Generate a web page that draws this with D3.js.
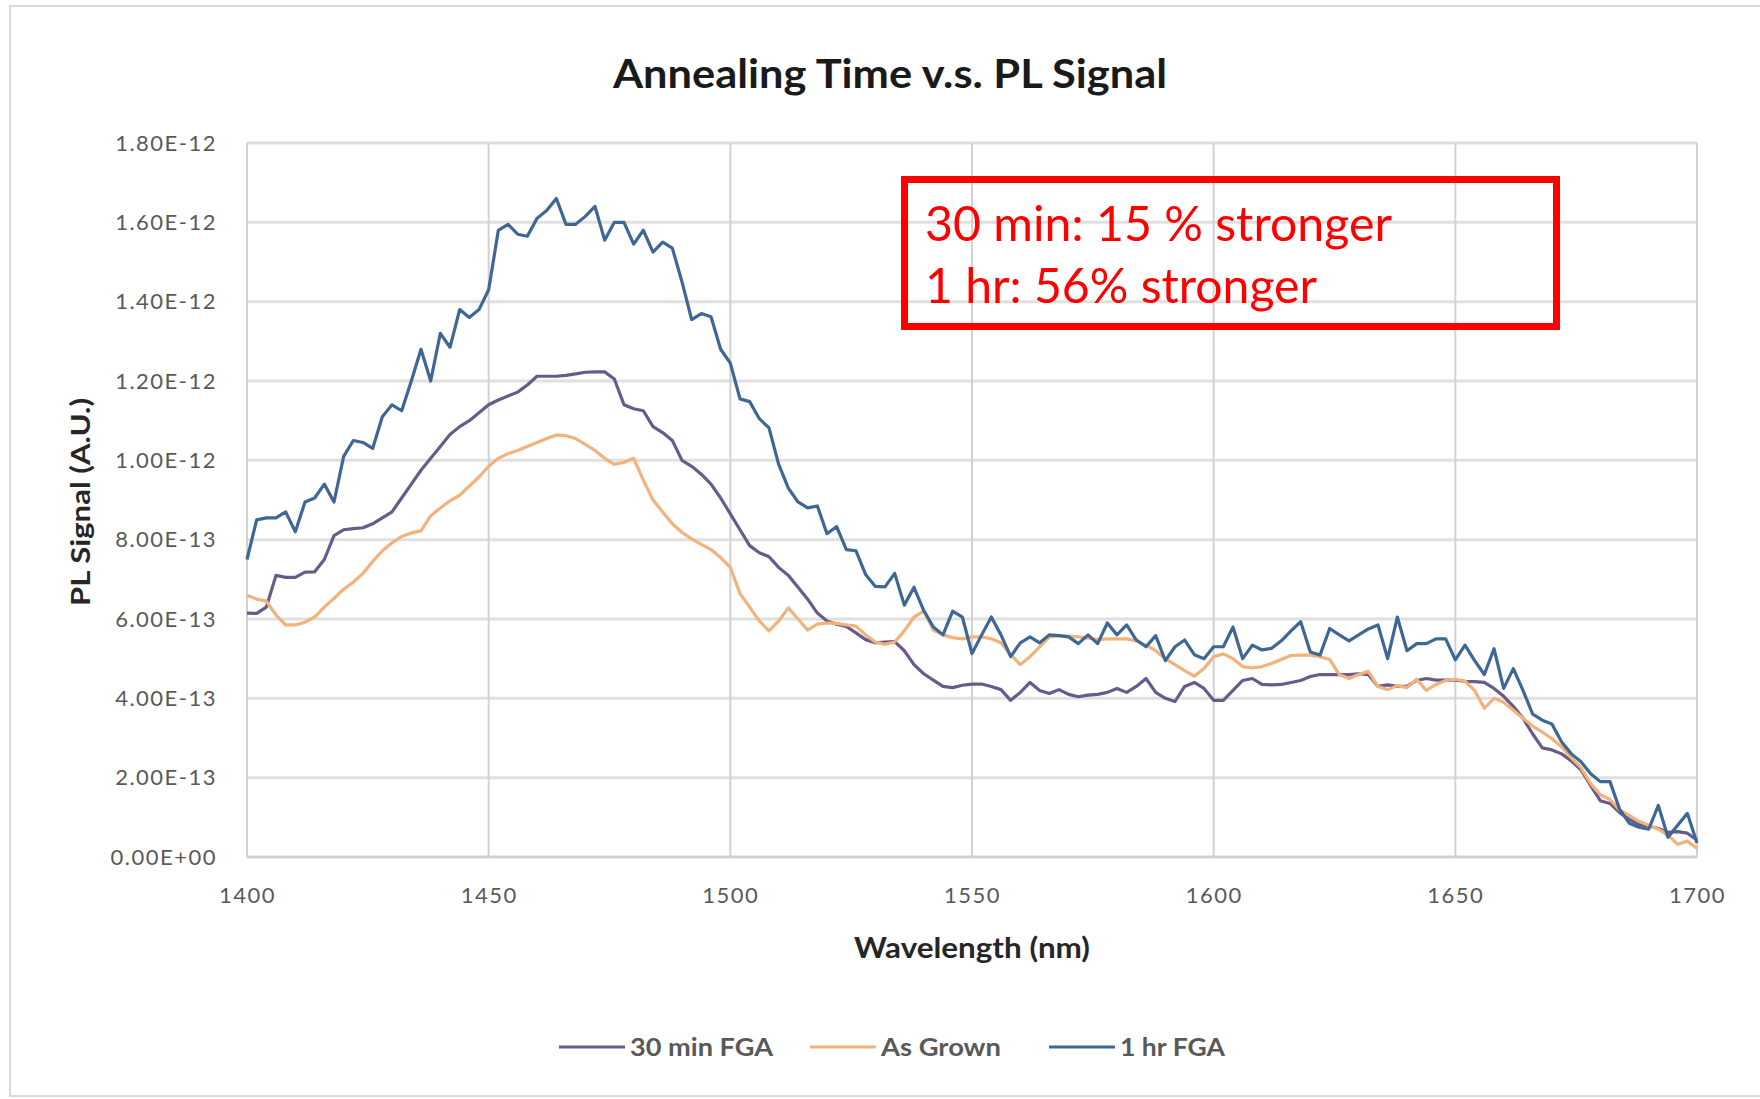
<!DOCTYPE html>
<html>
<head>
<meta charset="utf-8">
<title>Annealing Time v.s. PL Signal</title>
<script src="https://cdnjs.cloudflare.com/ajax/libs/d3/7.8.5/d3.min.js"></script>
<style>
    body { margin: 0; background: #ffffff; }
    #chart-area { width: 1760px; height: 1099px; }
    text { font-family: Lato, "Open Sans", sans-serif; }
</style>
</head>
<body>
<div id="chart-area"></div>
<script>
// wavelength samples (nm), one every 2 nm
let wavelengths = d3.range(1400, 1701, 2);

// PL signal, in units of 1e-13 (A.U.)
let unit = 1e-13;

let sig30min = [
    6.15, 6.14, 6.3, 7.1, 7.05,   7.05, 7.18, 7.19, 7.5, 8.1,
    8.25, 8.28, 8.3, 8.4, 8.55,   8.7, 9.05, 9.4, 9.75, 10.05,
    10.35, 10.65, 10.85, 11.0, 11.2,   11.4, 11.52, 11.62, 11.72, 11.9,
    12.12, 12.12, 12.12, 12.14, 12.18,   12.22, 12.23, 12.23, 12.05, 11.4,
    11.3, 11.25, 10.85, 10.7, 10.5,   10.0, 9.85, 9.65, 9.4, 9.05,
    8.65, 8.25, 7.85, 7.67, 7.57,   7.3, 7.1, 6.8, 6.5, 6.15,
    5.95, 5.87, 5.81, 5.65, 5.48,   5.4, 5.42, 5.43, 5.2, 4.85,
    4.62, 4.46, 4.3, 4.27, 4.33,   4.36, 4.36, 4.3, 4.22, 3.95,
    4.15, 4.4, 4.2, 4.12, 4.22,   4.1, 4.04, 4.08, 4.1, 4.15,
    4.25, 4.15, 4.3, 4.5, 4.15,   4.0, 3.92, 4.3, 4.4, 4.25,
    3.95, 3.95, 4.2, 4.45, 4.5,   4.35, 4.34, 4.35, 4.4, 4.45,
    4.55, 4.6, 4.6, 4.6, 4.6,   4.62, 4.6, 4.3, 4.34, 4.3,
    4.3, 4.45, 4.5, 4.46, 4.46,   4.46, 4.43, 4.42, 4.4, 4.25,
    4.05, 3.8, 3.5, 3.1, 2.75,   2.7, 2.6, 2.42, 2.2, 1.8,
    1.42, 1.35, 1.12, 0.95, 0.82,   0.78, 0.72, 0.62, 0.64, 0.6,
    0.43
];

let sigAsGrown = [
    6.6, 6.5, 6.45, 6.1, 5.85,   5.85, 5.92, 6.05, 6.3, 6.52,
    6.75, 6.93, 7.15, 7.45, 7.72,   7.92, 8.08, 8.17, 8.22, 8.6,
    8.8, 8.98, 9.12, 9.35, 9.58,   9.85, 10.05, 10.17, 10.25, 10.35,
    10.45, 10.55, 10.64, 10.62, 10.55,   10.4, 10.25, 10.05, 9.9, 9.95,
    10.05, 9.5, 9.0, 8.7, 8.4,   8.18, 8.02, 7.88, 7.75, 7.55,
    7.3, 6.64, 6.3, 5.95, 5.7,   5.95, 6.28, 6.0, 5.72, 5.87,
    5.9, 5.89, 5.85, 5.82, 5.6,   5.42, 5.36, 5.42, 5.7, 6.05,
    6.2, 5.72, 5.6, 5.53, 5.5,   5.55, 5.55, 5.5, 5.4, 5.1,
    4.85, 5.05, 5.3, 5.55, 5.58,   5.57, 5.55, 5.52, 5.48, 5.5,
    5.5, 5.5, 5.45, 5.34, 5.2,   5.0, 4.85, 4.7, 4.56, 4.75,
    5.05, 5.12, 5.0, 4.8, 4.77,   4.8, 4.88, 4.98, 5.08, 5.09,
    5.09, 5.05, 4.98, 4.6, 4.5,   4.6, 4.68, 4.3, 4.22, 4.32,
    4.27, 4.48, 4.2, 4.35, 4.45,   4.48, 4.43, 4.2, 3.75, 4.0,
    3.9, 3.7, 3.5, 3.3, 3.15,   2.98, 2.78, 2.5, 2.25, 1.85,
    1.57, 1.45, 1.18, 1.05, 0.9,   0.8, 0.7, 0.55, 0.32, 0.4,
    0.22
];

let sig1hr = [
    7.5, 8.5, 8.55, 8.55, 8.7,   8.2, 8.95, 9.05, 9.4, 8.95,
    10.1, 10.5, 10.45, 10.3, 11.1,   11.4, 11.25, 12.0, 12.8, 12.0,
    13.2, 12.85, 13.8, 13.6, 13.8,   14.3, 15.8, 15.95, 15.7, 15.65,
    16.1, 16.3, 16.6, 15.95, 15.95,   16.15, 16.4, 15.55, 16.0, 16.0,
    15.45, 15.8, 15.25, 15.5, 15.35,   14.5, 13.55, 13.7, 13.62, 12.8,
    12.45, 11.55, 11.48, 11.05, 10.82,   9.9, 9.3, 8.95, 8.8, 8.85,
    8.15, 8.33, 7.75, 7.72, 7.12,   6.82, 6.81, 7.15, 6.35, 6.8,
    6.22, 5.8, 5.6, 6.2, 6.05,   5.13, 5.6, 6.05, 5.6, 5.05,
    5.4, 5.55, 5.4, 5.6, 5.58,   5.55, 5.38, 5.6, 5.38, 5.9,
    5.6, 5.85, 5.47, 5.3, 5.58,   4.95, 5.3, 5.47, 5.1, 5.0,
    5.3, 5.3, 5.8, 5.0, 5.34,   5.22, 5.26, 5.45, 5.7, 5.93,
    5.17, 5.09, 5.76, 5.6, 5.45,   5.6, 5.75, 5.85, 5.0, 6.05,
    5.2, 5.38, 5.38, 5.5, 5.5,   4.97, 5.34, 4.95, 4.6, 5.25,
    4.25, 4.75, 4.2, 3.6, 3.45,   3.35, 2.9, 2.6, 2.4, 2.1,
    1.9, 1.9, 1.2, 0.85, 0.75,   0.7, 1.3, 0.5, 0.8, 1.1,
    0.35
];

let seriesNames = ["30 min FGA", "As Grown", "1 hr FGA"];
let seriesColors = ["#675b8c", "#f2b27c", "#3f6796"];

let xTicks = [1400, 1450, 1500, 1550, 1600, 1650, 1700];
let yTicks = [0, 2e-13, 4e-13, 6e-13, 8e-13, 1e-12, 1.2e-12, 1.4e-12, 1.6e-12, 1.8e-12];

let titleText = "Annealing Time v.s. PL Signal";
let xTitle = "Wavelength (nm)";
let yTitle = "PL Signal (A.U.)";
let noteLines = ["30 min: 15 % stronger", "1 hr: 56% stronger"];


class PLChart {
    constructor(parentElement, data) {
        this.parentElement = parentElement;
        this.data = data;
        this.displayData = [];

        this.initVis();
    }

    initVis() {
        let vis = this;

        vis.width = 1760;
        vis.height = 1099;
        vis.margin = { top: 143, right: 63, bottom: 242, left: 247 };

        vis.svg = d3.select("#" + vis.parentElement).append("svg")
            .attr("width", vis.width)
            .attr("height", vis.height);

        // outer chart frame
        vis.svg.append("rect")
            .attr("x", 10).attr("y", 6)
            .attr("width", vis.width).attr("height", 1090)
            .attr("fill", "#ffffff")
            .attr("stroke", "#d9d9d9")
            .attr("stroke-width", 2);

        vis.x = d3.scaleLinear()
            .domain([1400, 1700])
            .range([vis.margin.left, vis.width - vis.margin.right]);

        vis.y = d3.scaleLinear()
            .domain([0, 1.8e-12])
            .range([vis.height - vis.margin.bottom, vis.margin.top]);

        vis.wrangleData();
    }

    wrangleData() {
        let vis = this;

        vis.displayData = vis.data.series.map((s, i) => ({
            name: seriesNames[i],
            color: seriesColors[i],
            values: wavelengths.map((w, j) => ({ x: w, y: s[j] * unit }))
        }));

        vis.updateVis();
    }

    updateVis() {
        let vis = this;
        let x0 = vis.x.range()[0], x1 = vis.x.range()[1];
        let y0 = vis.y.range()[0], y1 = vis.y.range()[1];

        // horizontal gridlines
        vis.svg.append("g").attr("class", "grid-h")
            .selectAll("line")
            .data(yTicks)
            .enter().append("line")
            .attr("x1", x0).attr("x2", x1)
            .attr("y1", d => vis.y(d)).attr("y2", d => vis.y(d))
            .attr("stroke", d => d === 0 ? "#cfcfcf" : "#e0e0e0")
            .attr("stroke-width", 3);

        // vertical gridlines
        vis.svg.append("g").attr("class", "grid-v")
            .selectAll("line")
            .data(xTicks)
            .enter().append("line")
            .attr("x1", d => vis.x(d)).attr("x2", d => vis.x(d))
            .attr("y1", y0).attr("y2", y1)
            .attr("stroke", "#d2d2d2")
            .attr("stroke-width", 2);

        // y axis labels
        let yFormat = d => d === 0 ? "0.00E+00" : d3.format(".2e")(d).replace("e", "E").replace(/E([+-])(\d)$/, "E$10$2");
        let yAxis = d3.axisLeft(vis.y).tickValues(yTicks).tickSize(0).tickPadding(30)
            .tickFormat(d => {
                let s = d3.format(".2e")(d).toUpperCase();
                return s.replace(/E([+-])(\d)$/, "E$10$2");
            });
        let gy = vis.svg.append("g")
            .attr("transform", "translate(" + x0 + ",0)")
            .call(yAxis);
        gy.select(".domain").remove();
        gy.selectAll("text")
            .attr("font-family", "Lato, 'Open Sans', sans-serif")
            .attr("font-size", 22)
            .attr("letter-spacing", 1.5)
            .attr("fill", "#595959");

        // x axis labels
        let xAxis = d3.axisBottom(vis.x).tickValues(xTicks).tickSize(0).tickPadding(30)
            .tickFormat(d3.format("d"));
        let gx = vis.svg.append("g")
            .attr("transform", "translate(0," + y0 + ")")
            .call(xAxis);
        gx.select(".domain").remove();
        gx.selectAll("text")
            .attr("font-family", "Lato, 'Open Sans', sans-serif")
            .attr("font-size", 22)
            .attr("letter-spacing", 1.5)
            .attr("fill", "#595959");

        // data lines
        let line = d3.line()
            .x(d => vis.x(d.x))
            .y(d => vis.y(d.y));

        vis.svg.append("g").attr("class", "lines")
            .selectAll("path")
            .data(vis.displayData)
            .enter().append("path")
            .attr("d", d => line(d.values))
            .attr("fill", "none")
            .attr("stroke", d => d.color)
            .attr("stroke-width", 3.2)
            .attr("stroke-linejoin", "round");

        // title
        vis.svg.append("text")
            .attr("x", 890).attr("y", 88)
            .attr("text-anchor", "middle")
            .attr("font-size", 40)
            .attr("font-weight", "bold")
            .attr("fill", "#1a1a1a")
            .attr("textLength", 554)
            .attr("lengthAdjust", "spacingAndGlyphs")
            .text(titleText);

        // axis titles
        vis.svg.append("text")
            .attr("x", 972).attr("y", 958)
            .attr("text-anchor", "middle")
            .attr("font-size", 28)
            .attr("font-weight", "bold")
            .attr("fill", "#262626")
            .attr("textLength", 236)
            .attr("lengthAdjust", "spacingAndGlyphs")
            .text(xTitle);

        vis.svg.append("text")
            .attr("transform", "translate(90,502) rotate(-90)")
            .attr("text-anchor", "middle")
            .attr("font-size", 27)
            .attr("font-weight", "bold")
            .attr("fill", "#262626")
            .attr("textLength", 208)
            .attr("lengthAdjust", "spacingAndGlyphs")
            .text(yTitle);

        // annotation box
        vis.svg.append("rect")
            .attr("x", 904.5).attr("y", 179.5)
            .attr("width", 652).attr("height", 147)
            .attr("fill", "none")
            .attr("stroke", "#ff0000")
            .attr("stroke-width", 7);

        let noteWidths = [467, 392];
        vis.svg.append("g").attr("class", "note")
            .selectAll("text")
            .data(noteLines)
            .enter().append("text")
            .attr("x", 925)
            .attr("y", (d, i) => 241 + i * 62)
            .attr("font-size", 48)
            .attr("fill", "#ff0000")
            .attr("textLength", (d, i) => noteWidths[i])
            .attr("lengthAdjust", "spacingAndGlyphs")
            .text(d => d);

        // legend
        let legendX = [559, 810, 1049];
        let legendW = [143, 120, 105];
        let legend = vis.svg.append("g").attr("class", "legend")
            .selectAll("g")
            .data(vis.displayData)
            .enter().append("g")
            .attr("transform", (d, i) => "translate(" + legendX[i] + ",1047)");

        legend.append("line")
            .attr("x1", 0).attr("x2", 66)
            .attr("stroke", d => d.color)
            .attr("stroke-width", 3.2);

        legend.append("text")
            .attr("x", 71).attr("y", 9)
            .attr("font-size", 25)
            .attr("font-weight", "bold")
            .attr("fill", "#595959")
            .attr("textLength", (d, i) => legendW[i])
            .attr("lengthAdjust", "spacingAndGlyphs")
            .text(d => d.name);
    }
}

let chart = new PLChart("chart-area", { series: [sig30min, sigAsGrown, sig1hr] });
</script>
</body>
</html>
